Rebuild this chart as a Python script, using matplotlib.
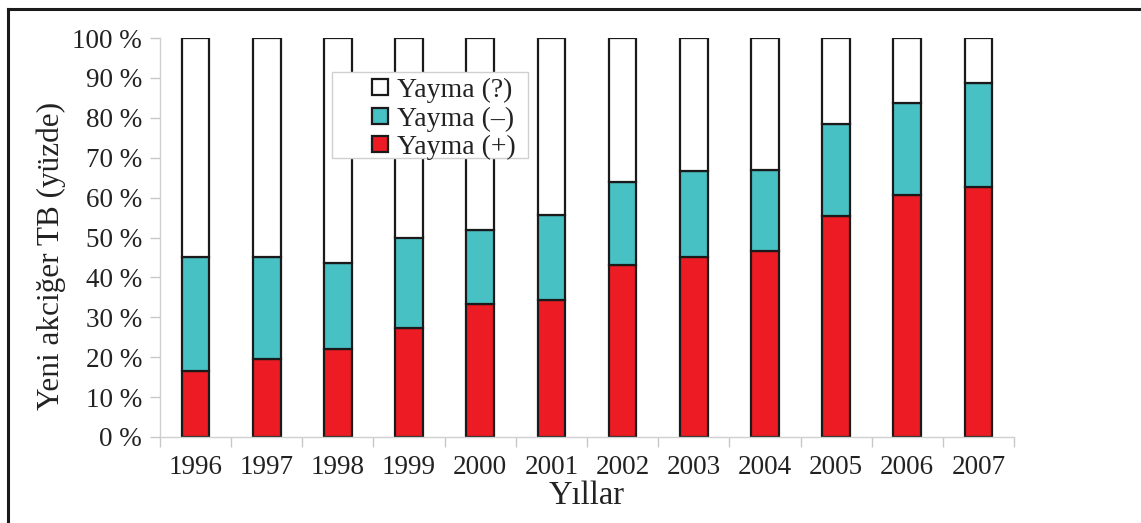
import numpy as np
import matplotlib
matplotlib.use('Agg')
import matplotlib.pyplot as plt
from matplotlib.lines import Line2D
from matplotlib.patches import Rectangle

plt.rcParams['font.family'] = ['Liberation Serif', 'DejaVu Serif']

years = ['1996', '1997', '1998', '1999', '2000', '2001',
         '2002', '2003', '2004', '2005', '2006', '2007']
# Yayma (+), Yayma (-) and Yayma (?) shares in percent
pos = [16.5, 19.5, 22.0, 27.3, 33.3, 34.3, 43.0, 45.0, 46.5, 55.4, 60.6, 62.7]
neg = [28.5, 25.5, 21.6, 22.7, 18.7, 21.3, 21.0, 21.7, 20.5, 23.1, 23.1, 26.1]
unk = [55.0, 55.0, 56.4, 50.0, 48.0, 44.4, 36.0, 33.3, 33.0, 21.5, 16.3, 11.2]

red = '#ED1C24'
teal = '#48C1C4'
txt = '#222222'

fig = plt.figure(figsize=(11.41, 5.23), dpi=100)
ax = fig.add_axes([160 / 1141, 1 - 437 / 523, 854 / 1141, 399 / 523])

x = np.arange(len(years))
w = 0.39
pos_a = np.array(pos)
neg_a = np.array(neg)
unk_a = np.array(unk)
b1 = ax.bar(x, pos_a, w, color=red, edgecolor='#1a1a1a', linewidth=1.6, label='Yayma (+)')
b2 = ax.bar(x, neg_a, w, bottom=pos_a, color=teal, edgecolor='#1a1a1a', linewidth=1.6, label='Yayma (–)')
b3 = ax.bar(x, unk_a, w, bottom=pos_a + neg_a, color='white', edgecolor='#1a1a1a', linewidth=1.6, label='Yayma (?)')

ax.set_xlim(-0.5, len(years) - 0.5)
ax.set_ylim(0, 100)
ax.set_yticks(range(0, 101, 10))
ax.set_yticklabels([f'{v} %' for v in range(0, 101, 10)])
ax.set_xticks(x)
ax.set_xticklabels(years)
ax.set_xticks(np.arange(-0.5, len(years)), minor=True)
ax.tick_params(axis='x', which='major', length=0, pad=13, labelsize=19.5, labelcolor=txt)
ax.tick_params(axis='x', which='minor', length=7, color='#c8c8c8', width=1)
ax.tick_params(axis='y', length=7, color='#c8c8c8', width=1, pad=6, labelsize=19.5, labelcolor=txt)

for s in ['top', 'right']:
    ax.spines[s].set_visible(False)
for s in ['left', 'bottom']:
    ax.spines[s].set_color('#d0d0d0')
    ax.spines[s].set_linewidth(1)

ax.set_ylabel('Yeni akciğer TB (yüzde)', fontsize=22.5, color=txt)
ax.yaxis.set_label_coords(-0.110, 0.455)
ax.set_xlabel('Yıllar', fontsize=23.5, color=txt, labelpad=0)

# legend box drawn separately like the Excel frame, entries on top of it
ax.add_patch(Rectangle((332 / 1141, 1 - 158 / 523), 196 / 1141, 86 / 523,
                       transform=fig.transFigure, facecolor='white',
                       edgecolor='#d0d0d0', lw=1, zorder=5, clip_on=False))
leg = ax.legend(handles=[b3, b2, b1], loc='upper left',
                bbox_to_anchor=(372 / 1141, 1 - 78 / 523), bbox_transform=fig.transFigure,
                fontsize=20, frameon=False, handlelength=0.58, handleheight=0.5,
                handletextpad=0.33, borderpad=0, labelspacing=0.12, borderaxespad=0)
for t in leg.get_texts():
    t.set_color(txt)
leg.set_zorder(6)

# outer frame (top and left visible)
fig.add_artist(Line2D([8 / 1141, 1.01], [1 - 9 / 523, 1 - 9 / 523], color='#1a1a1a', lw=2.2,
                      transform=fig.transFigure))
fig.add_artist(Line2D([8 / 1141, 8 / 1141], [1 - 9 / 523, -0.01], color='#1a1a1a', lw=2.2,
                      transform=fig.transFigure))

fig.savefig('out.png', dpi=100)
